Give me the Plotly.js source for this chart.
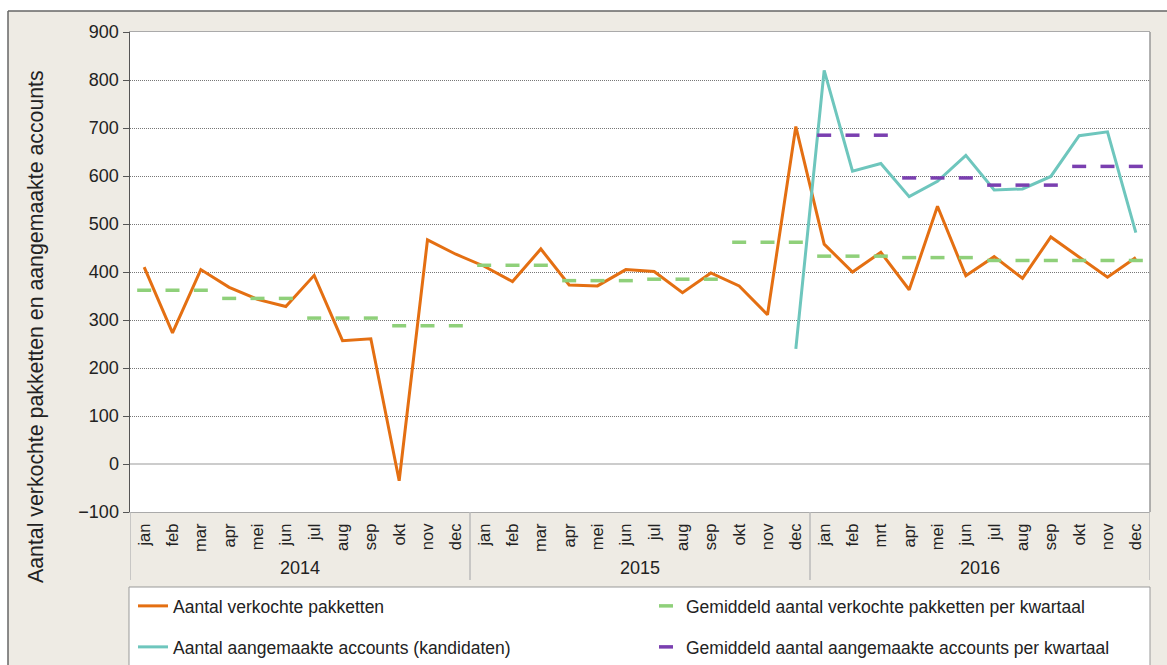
<!DOCTYPE html>
<html><head><meta charset="utf-8">
<script src="https://cdn.plot.ly/plotly-3.0.1.min.js"></script>
<style>html,body{margin:0;padding:0;background:#fff}#chart{width:1167px;height:665px}</style>
</head><body><div id="chart"></div>
<script>
const years = ['2014', '2015', '2016'];
const monthLabels2014 = ['jan','feb','mar','apr','mei','jun','jul','aug','sep','okt','nov','dec'];
const monthLabels2015 = ['jan','feb','mar','apr','mei','jun','jul','aug','sep','okt','nov','dec'];
const monthLabels2016 = ['jan','feb','mrt','apr','mei','jun','jul','aug','sep','okt','nov','dec'];

const verkochtePakketten = [
  410, 273, 405, 368, 343, 328, 393, 257, 261, -35, 467, 437,
  412, 380, 448, 373, 371, 405, 401, 357, 398, 371, 311, 703,
  458, 400, 441, 363, 537, 392, 432, 387, 473, 431, 389, 430
];
const gemPakkettenPerKwartaal = [362, 345, 304, 288, 414, 382, 385, 462, 433, 430, 424, 424];

const aangemaakteAccounts = [
  null, null, null, null, null, null, null, null, null, null, null, null,
  null, null, null, null, null, null, null, null, null, null, null, 240,
  820, 610, 626, 557, 589, 643, 571, 573, 599, 684, 692, 482
];
const gemAccountsPerKwartaal = [null, null, null, null, null, null, null, null, 685, 596, 581, 620];

const names = [
  'Aantal verkochte pakketten',
  'Gemiddeld aantal verkochte pakketten per kwartaal',
  'Aantal aangemaakte accounts (kandidaten)',
  'Gemiddeld aantal aangemaakte accounts per kwartaal'
];
const yTitle = 'Aantal verkochte pakketten en aangemaakte accounts';

// month positions (category index) and labels
const monthsPerYear = [monthLabels2014, monthLabels2015, monthLabels2016];
const monthText = [].concat(...monthsPerYear);
const xIdx = monthText.map((_, i) => i);
const perMonth = q => xIdx.map(i => q[Math.floor(i / 3)]);

const W = 1167, H = 665, L = 130, R = 17, T = 32, B = 153;
const PW = W - L - R, PH = H - T - B;
const px = v => (v - L) / PW;
const py = v => (H - B - v) / PH;

const orange = '#E46F12', teal = '#6EC6BD', green = '#8FD07A', purple = '#7A3FB0';

const traces = [
  {x: xIdx, y: verkochtePakketten, name: names[0], mode: 'lines', type: 'scatter',
   line: {color: orange, width: 3}, legend: 'legend'},
  {x: xIdx, y: perMonth(gemPakkettenPerKwartaal), name: names[1], mode: 'markers', type: 'scatter',
   marker: {symbol: 'line-ew', size: 10, color: green, line: {color: green, width: 3.5}}, legend: 'legend2'},
  {x: xIdx, y: aangemaakteAccounts, name: names[2], mode: 'lines', type: 'scatter',
   line: {color: teal, width: 3}, legend: 'legend3'},
  {x: xIdx, y: perMonth(gemAccountsPerKwartaal), name: names[3], mode: 'markers', type: 'scatter',
   marker: {symbol: 'line-ew', size: 10, color: purple, line: {color: purple, width: 3.5}}, legend: 'legend4'}
];

// year group boundaries and label positions
const n = monthText.length;
const perYear = n / years.length;
const dividers = [];
for (let k = 0; k <= years.length; k++) dividers.push(k * perYear - 0.5);

const fontFam = 'Liberation Sans, Arial, sans-serif';
const shapes = [
  {type: 'rect', xref: 'paper', yref: 'paper', x0: px(0), x1: px(W), y0: py(11), y1: py(0), fillcolor: '#FFFFFF', line: {width: 0}, layer: 'below'},
  {type: 'rect', xref: 'paper', yref: 'paper', x0: px(0), x1: px(8), y0: py(H), y1: py(0), fillcolor: '#FFFFFF', line: {width: 0}, layer: 'below'},
  {type: 'line', xref: 'paper', yref: 'paper', x0: px(8), x1: px(W), y0: py(11), y1: py(11), line: {color: '#666', width: 1.5}},
  {type: 'line', xref: 'paper', yref: 'paper', x0: px(8), x1: px(8), y0: py(11), y1: py(H), line: {color: '#666', width: 1.5}},
  {type: 'line', xref: 'paper', yref: 'paper', x0: 1, x1: 1, y0: 0, y1: 1, line: {color: '#999', width: 1.5}},
  {type: 'rect', xref: 'paper', yref: 'paper', x0: px(129), x1: px(1150), y0: py(H + 5), y1: py(587), fillcolor: '#FFFFFF', line: {color: '#999', width: 1}, layer: 'below'}
];
dividers.forEach(d => shapes.push({type: 'line', xref: 'x', yref: 'paper', x0: d, x1: d, y0: 0, y1: py(580),
  line: {color: '#BBBBBB', width: 1.5}}));

const annotations = [
  {text: yTitle, xref: 'paper', yref: 'paper', x: px(36), y: py(327), xanchor: 'center', yanchor: 'middle',
   textangle: -90, showarrow: false, font: {size: 21.3, color: '#222', family: fontFam}}
];
years.forEach((y, k) => annotations.push({text: y, xref: 'x', yref: 'paper',
  x: k * perYear + (perYear - 1) / 2, y: py(568), xanchor: 'center', yanchor: 'middle',
  showarrow: false, font: {size: 18, color: '#222', family: fontFam}}));

const legendBase = {orientation: 'v', xanchor: 'left', yanchor: 'middle',
  bgcolor: 'rgba(0,0,0,0)', borderwidth: 0, font: {size: 17.5, color: '#222', family: fontFam}};

const layout = {
  width: W, height: H,
  margin: {l: L, r: R, t: T, b: B, pad: 0, autoexpand: false},
  paper_bgcolor: '#EEEBE4',
  plot_bgcolor: '#FFFFFF',
  font: {family: fontFam, color: '#222', size: 17.5},
  showlegend: true,
  legend:  Object.assign({}, legendBase, {x: px(133), y: py(606)}),
  legend2: Object.assign({}, legendBase, {x: px(646), y: py(606)}),
  legend3: Object.assign({}, legendBase, {x: px(133), y: py(647)}),
  legend4: Object.assign({}, legendBase, {x: px(646), y: py(647)}),
  xaxis: {
    range: [-0.5, n - 0.5],
    tickmode: 'array', tickvals: xIdx, ticktext: monthText,
    tickangle: -90,
    tickfont: {size: 16.5, color: '#222'},
    ticklabelstandoff: 4,
    showgrid: false, zeroline: false,
    showline: true, linecolor: '#AAAAAA', linewidth: 1, mirror: true,
    ticks: '', fixedrange: true
  },
  yaxis: {
    range: [-100, 900], dtick: 100, tick0: 0,
    tickfont: {size: 18, color: '#222'},
    ticks: 'outside', ticklen: 6, tickcolor: '#555', tickwidth: 1,
    showline: true, linecolor: '#555', linewidth: 1.5,
    showgrid: true, gridcolor: '#777', griddash: '1px,1px', gridwidth: 1,
    zeroline: true, zerolinecolor: '#CCCCCC', zerolinewidth: 1.5,
    fixedrange: true
  },
  shapes: shapes,
  annotations: annotations
};

Plotly.newPlot('chart', traces, layout, {displayModeBar: false, staticPlot: true});
</script>
</body></html>
